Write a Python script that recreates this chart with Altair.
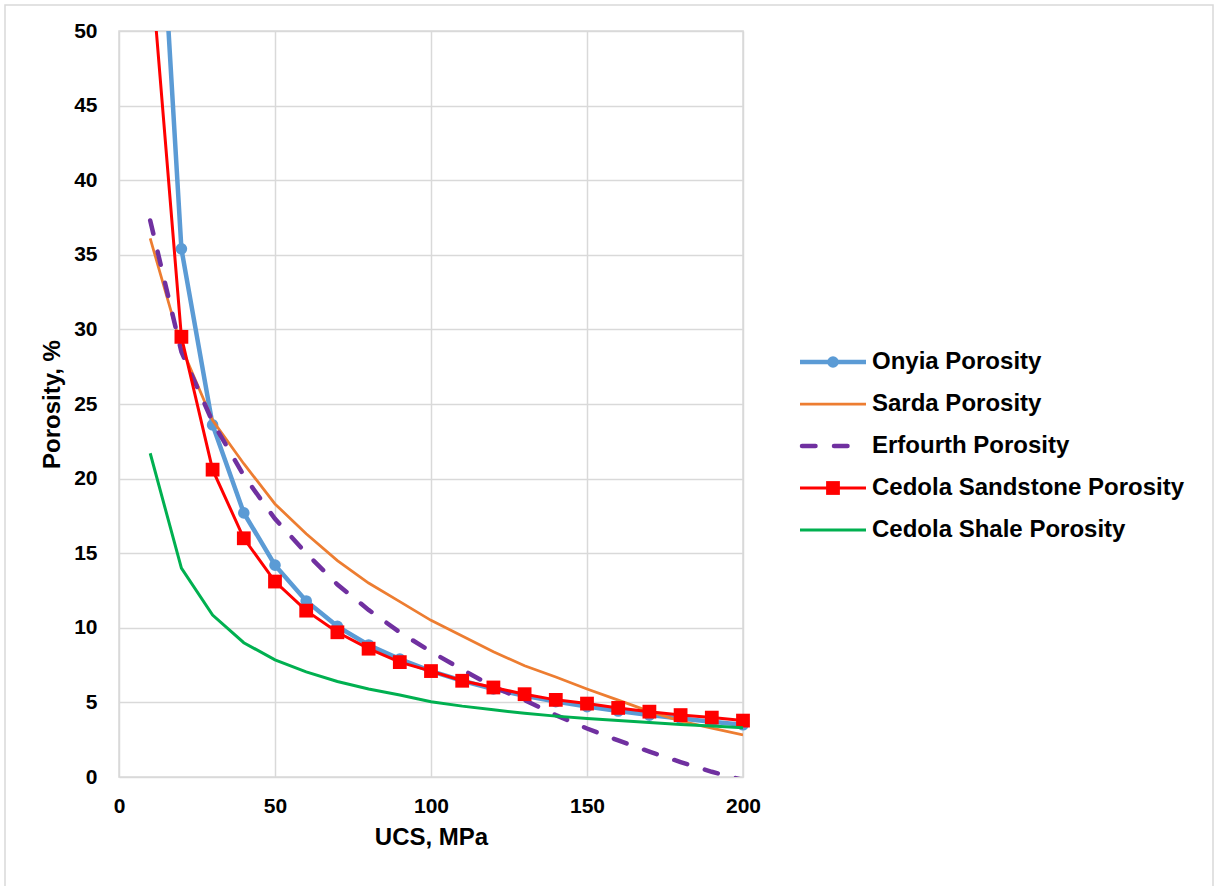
import altair as alt
import pandas as pd

# UCS values (MPa) at which each porosity model is evaluated
ucs = [10, 20, 30, 40, 50, 60, 70, 80, 90, 100,
       110, 120, 130, 140, 150, 160, 170, 180, 190, 200]

# Porosity (%) from each correlation
onyia = [70.8, 35.4, 23.6, 17.7, 14.2, 11.8, 10.1, 8.85, 7.9, 7.1,
         6.45, 5.9, 5.45, 5.05, 4.72, 4.42, 4.15, 3.92, 3.7, 3.5]
sarda = [36.1, 28.8, 23.9, 21.0, 18.3, 16.3, 14.5, 13.0, 11.75, 10.5,
         9.45, 8.4, 7.45, 6.7, 5.9, 5.15, 4.4, 3.75, 3.28, 2.82]
erfourth = [37.3, 28.5, 23.8, 20.2, 17.3, 15.0, 12.9, 11.2, 9.7, 8.4,
            7.2, 6.05, 5.15, 4.15, 3.25, 2.45, 1.7, 1.0, 0.35, -0.2]
cedola_sandstone = [55.0, 29.5, 20.6, 16.0, 13.1, 11.15, 9.7, 8.6, 7.7, 7.1,
                    6.45, 6.0, 5.55, 5.17, 4.92, 4.63, 4.38, 4.15, 3.98, 3.78]
cedola_shale = [21.7, 14.0, 10.85, 9.0, 7.85, 7.05, 6.4, 5.9, 5.5, 5.05,
                4.75, 4.5, 4.27, 4.08, 3.92, 3.78, 3.65, 3.52, 3.42, 3.3]

series_names = ["Onyia Porosity", "Sarda Porosity", "Erfourth Porosity",
                "Cedola Sandstone Porosity", "Cedola Shale Porosity"]
series_values = [onyia, sarda, erfourth, cedola_sandstone, cedola_shale]

x_ticks = [0, 50, 100, 150, 200]
y_ticks = [0, 5, 10, 15, 20, 25, 30, 35, 40, 45, 50]

# Line / marker styling per series
styles = {
    "Onyia Porosity": dict(color="#5B9BD5", width=4.5, dash=None, marker="circle", size=135),
    "Sarda Porosity": dict(color="#ED7D31", width=2.75, dash=None, marker=None, size=0),
    "Erfourth Porosity": dict(color="#7030A0", width=4.5, dash=[13.5, 18.5], marker=None, size=0),
    "Cedola Sandstone Porosity": dict(color="#FF0000", width=3, dash=None, marker="square", size=190),
    "Cedola Shale Porosity": dict(color="#00B050", width=3, dash=None, marker=None, size=0),
}

FONT = "Liberation Sans"

df = pd.DataFrame(
    [{"series": n, "ucs": u, "porosity": p}
     for n, vals in zip(series_names, series_values)
     for u, p in zip(ucs, vals)]
)
legend_df = pd.DataFrame({"series": series_names})

x_enc = alt.X(
    "ucs:Q",
    scale=alt.Scale(domain=[0, 200], nice=False),
    axis=alt.Axis(values=x_ticks, title="UCS, MPa", labelFlush=False,
                  labelPadding=18, titlePadding=9),
)
y_enc = alt.Y(
    "porosity:Q",
    scale=alt.Scale(domain=[0, 50], nice=False),
    axis=alt.Axis(values=y_ticks, title="Porosity, %", labelFlush=False,
                  labelPadding=22, titlePadding=9),
)

# Light frame around the whole figure (its lower edge runs off the page)
frame = alt.Chart(pd.DataFrame({"k": [0]})).mark_rect(
    fill=None, stroke="#D9D9D9", strokeWidth=1.5, clip=False
).encode(
    x=alt.value(-114), x2=alt.value(1094), y=alt.value(-26), y2=alt.value(880)
)

data_layers = [frame]
for name in series_names:
    st = styles[name]
    src = alt.Chart(df).transform_filter(alt.datum.series == name)
    line_kw = dict(color=st["color"], strokeWidth=st["width"], clip=True)
    if st["dash"]:
        line_kw.update(strokeDash=st["dash"], strokeCap="round")
    data_layers.append(src.mark_line(**line_kw).encode(x=x_enc, y=y_enc))
    if st["marker"]:
        # markers only where the point lies inside the axis range
        data_layers.append(
            src.transform_filter(alt.datum.porosity <= 50)
            .mark_point(shape=st["marker"], filled=True, opacity=1,
                        color=st["color"], size=st["size"])
            .encode(x=x_enc, y=y_enc)
        )
plot = alt.layer(*data_layers)

# Legend drawn beside the plot, one row per series
leg_y = alt.Y("series:N", sort=series_names, axis=None,
              scale=alt.Scale(type="point", range=[331, 499], padding=0))
leg_layers = []
for name in series_names:
    st = styles[name]
    src = alt.Chart(legend_df).transform_filter(alt.datum.series == name)
    rule_kw = dict(color=st["color"], strokeWidth=st["width"])
    x_start = 681
    if st["dash"]:
        rule_kw.update(strokeDash=st["dash"], strokeCap="round")
        x_start = 683
    leg_layers.append(src.mark_rule(**rule_kw).encode(
        x=alt.value(x_start), x2=alt.value(747), y=leg_y))
    if st["marker"]:
        leg_layers.append(src.mark_point(shape=st["marker"], filled=True, opacity=1,
                                         color=st["color"], size=st["size"])
                          .encode(x=alt.value(714), y=leg_y))
leg_layers.append(
    alt.Chart(legend_df).mark_text(align="left", baseline="middle", font=FONT,
                                   fontWeight="bold", fontSize=24, color="black")
    .encode(x=alt.value(753), y=leg_y, text="series:N")
)
legend = alt.layer(*leg_layers)

chart = (
    alt.layer(plot, legend)
    .resolve_scale(y="independent")
    .properties(
        width=624,
        height=746,
        padding={"left": 119, "top": 31, "right": 474, "bottom": 109},
        autosize=alt.AutoSizeParams(type="none"),
        background="white",
    )
    .configure_view(stroke="#D9D9D9", strokeWidth=1.5)
    .configure_axis(
        grid=True,
        gridColor="#D9D9D9",
        gridWidth=1.5,
        domain=False,
        ticks=False,
        labelFont=FONT,
        labelFontWeight="bold",
        labelFontSize=21,
        labelColor="black",
        titleFont=FONT,
        titleFontWeight="bold",
        titleFontSize=24,
        titleColor="black",
    )
)

chart.save("out.html", embed_options={"renderer": "svg", "actions": False})
